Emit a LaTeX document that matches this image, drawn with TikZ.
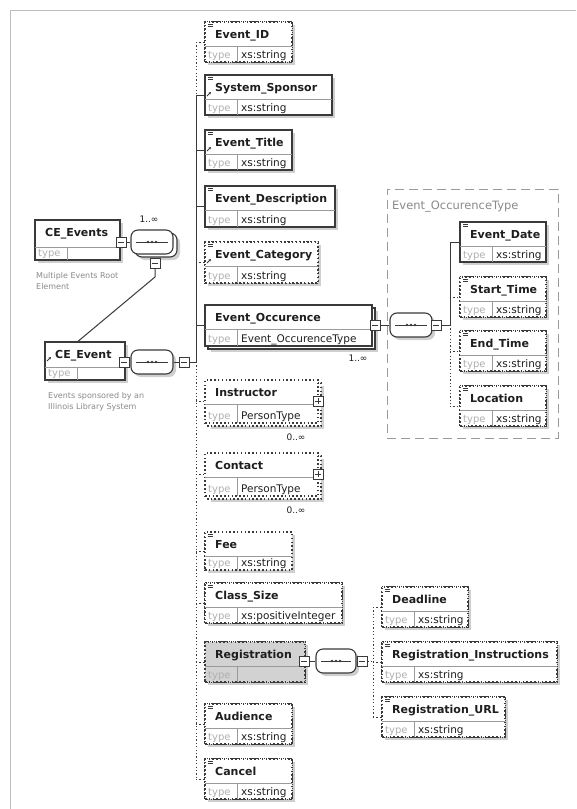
\documentclass[tikz,border=0pt]{standalone}
\usepackage{fontspec}
\setmainfont{DejaVu Sans}
\usetikzlibrary{fit,calc,arrows.meta}
\definecolor{boxc}{HTML}{3A3A3A}
\definecolor{divc}{HTML}{9A9A9A}
\definecolor{shadc}{HTML}{CFCFCF}
\definecolor{textc}{HTML}{1E1E1E}
\definecolor{lblc}{HTML}{8A8A8A}
\definecolor{typelc}{HTML}{B0B0B0}
\definecolor{framec}{HTML}{BDBDBD}
\definecolor{regc}{HTML}{D2D2D2}
\tikzset{
 elline/.style={draw=boxc, line width=1.3pt},
 req/.style={solid},
 opt/.style={dash pattern=on 1.5pt off 2.3pt},
 elbox/.style={elline, fill=white, inner sep=0pt},
 divline/.style={draw=divc, line width=0.6pt},
 namef/.style={anchor=base west, inner sep=0pt, text=textc, font=\fontsize{11}{13}\selectfont\bfseries},
 typef/.style={anchor=base west, inner sep=0pt, text=textc, font=\fontsize{10.5}{12}\selectfont},
 typelf/.style={anchor=base west, inner sep=0pt, text=typelc, font=\fontsize{10}{12}\selectfont},
 conn/.style={draw=boxc, line width=1pt},
 optconn/.style={conn, dash pattern=on 1.2pt off 2.2pt},
 seqbox/.style={draw=boxc, line width=1.1pt, fill=white, rounded corners=7pt, minimum width=42pt, minimum height=24pt, inner sep=0pt},
 pmbox/.style={draw=boxc, line width=0.9pt, fill=white, minimum size=10pt, inner sep=0pt},
 note/.style={anchor=base west, inner sep=0pt, text=lblc, font=\fontsize{8}{9}\selectfont},
 card/.style={inner sep=0pt, text=textc, font=\fontsize{9}{10}\selectfont},
 grpbox/.style={draw=divc, line width=0.9pt, dash pattern=on 9pt off 5pt, inner sep=0pt},
}
\newcommand{\xel}[8]{%
 \fill[shadc] (#3+\stk+3,#4+\stk+3) rectangle (#5+\stk+3,#6+\stk+3);
 \path[elline, fill=white, #2] (#3+\stk,#4+\stk) rectangle (#5+\stk,#6+\stk);
 \node[elbox, #2, fit={(#3,#4) (#5,#6)}] (#1) {};
 \draw[divline] (#3,#4+\rowh) -- (#5,#4+\rowh);
 \draw[divline] (#3+32,#4+\rowh) -- (#3+32,#6);
 \node[namef] (#1-n) at (#3+10,#4+16) {#7};
 \node[typelf] (#1-l) at (#3+3,#6-4) {type};
 \node[typef] (#1-t) at (#3+36,#6-4) {#8};
}
\newcommand{\eqi}[2]{\draw[boxc, line width=0.6pt] (#1+3,#2+2.5) -- (#1+8,#2+2.5) (#1+3,#2+4.5) -- (#1+8,#2+4.5);}
\newcommand{\refi}[2]{\draw[boxc, line width=0.8pt, -{Stealth[length=2.5pt,width=2.5pt]}] (#1+2,#2+21) -- (#1+6,#2+17);}
\newcommand{\minusbx}[3]{\node[pmbox] (#1) at (#2,#3) {};
 \draw[boxc, line width=0.9pt] ($(#1.center)+(-3,0)$) -- ($(#1.center)+(3,0)$);}
\newcommand{\plusbx}[3]{\node[pmbox] (#1) at (#2,#3) {};
 \draw[boxc, line width=0.9pt] ($(#1.center)+(-3,0)$) -- ($(#1.center)+(3,0)$) ($(#1.center)+(0,-3)$) -- ($(#1.center)+(0,3)$);}
\newcommand{\seqc}[4]{%
 \node[seqbox, fill=shadc, draw=none, minimum width=#4pt] (#1-sh) at (#2+3,#3+3) {};
 \node[seqbox, minimum width=#4pt] (#1) at (#2,#3) {};
 \draw[boxc, line width=0.9pt] ($(#1.west)+(6,0)$) -- ($(#1.east)+(-6,0)$);
 \foreach \dx in {-4,0,4} \fill[boxc] ($(#1.center)+(\dx,0)$) circle (1.4pt);
}
\begin{document}
\begin{tikzpicture}[x=1pt,y=-1pt]
\useasboundingbox (0,0) rectangle (576,809);
\fill[white] (0,0) rectangle (576,809);
\draw[framec, line width=0.8pt] (10,809) -- (10,10) -- (576,10);

% root elements
\def\stk{0}\def\rowh{27}
\xel{ces}{req}{35}{220}{120}{260}{CE\_Events}{}
\def\rowh{25}
\xel{ce}{req}{45}{342}{125}{380}{CE\_Event}{}
\refi{45}{340}
\node[note] (n1a) at (36,278) {Multiple Events Root};
\node[note] (n1b) at (36,289) {Element};
\node[note] (n2a) at (48,398) {Events sponsored by an};
\node[note] (n2b) at (48,409) {Illinois Library System};

% CE_Events sequence (1..inf)
\node[seqbox, fill=shadc, draw=none] (s1-stksh) at (159,248) {};
\node[seqbox] (s1-stk) at (156,245) {};
\node[seqbox] (s1) at (152,242) {};
\draw[boxc, line width=0.9pt] ($(s1.west)+(6,0)$) -- ($(s1.east)+(-6,0)$);
\foreach \dx in {-4,0,4} \fill[boxc] ($(s1.center)+(\dx,0)$) circle (1.4pt);
\node[card] (s1-c) at (149,219) {1..∞};
\minusbx{cesm}{121}{242}
\draw[conn] (cesm) -- (s1);
\minusbx{s1b}{155}{263}
\draw[conn] (s1b.north) -- (s1b.north |- s1-stk.south);
\coordinate (bend) at (155,277);
\coordinate (cetopx) at (78,0);
\draw[conn] (s1b.south) -- (bend) -- (ce.north -| cetopx);

% CE_Event sequence
\minusbx{cem}{124}{362}
\seqc{s2}{152}{362}{42}
\minusbx{s2m}{184}{362}
\coordinate (j0) at (196,362);
\coordinate (sp) at (196,0);
\draw[conn] (cem) -- (s2);
\draw[conn] (s2) -- (s2m);
\draw[conn] (s2m) -- (j0);

% children of CE_Event
\def\rowh{24}
\xel{e1}{opt}{205}{22}{292}{62}{Event\_ID}{xs:string}\eqi{205}{22}
\xel{e2}{req}{205}{75}{332}{115}{System\_Sponsor}{xs:string}\eqi{205}{75}\refi{205}{75}
\xel{e3}{req}{205}{130}{292}{170}{Event\_Title}{xs:string}\eqi{205}{130}\refi{205}{130}
\xel{e4}{req}{205}{186}{335}{227}{Event\_Description}{xs:string}\eqi{205}{186}
\xel{e5}{opt}{205}{242}{318}{283}{Event\_Category}{xs:string}\eqi{205}{242}\refi{205}{242}
\def\stk{3}
\xel{e6}{req}{205}{305}{372}{346}{Event\_Occurence}{Event\_OccurenceType}
\xel{e7}{opt}{205}{380}{318}{423}{Instructor}{PersonType}
\xel{e8}{opt}{205}{453}{318}{496}{Contact}{PersonType}
\def\stk{0}
\xel{e9}{opt}{205}{532}{292}{570}{Fee}{xs:string}\eqi{205}{532}
\xel{e10}{opt}{205}{583}{342}{623}{Class\_Size}{xs:positiveInteger}\eqi{205}{583}
\xel{e11}{opt,fill=regc}{205}{642}{305}{682}{Registration}{}
\xel{e12}{opt}{205}{704}{292}{744}{Audience}{xs:string}\eqi{205}{704}
\xel{e13}{opt}{205}{759}{292}{799}{Cancel}{xs:string}\eqi{205}{759}

\node[card] (e6-c) at (358,358) {1..∞};
\node[card] (e7-c) at (296,437) {0..∞};
\node[card] (e8-c) at (296,510) {0..∞};
\plusbx{e7p}{318}{401}
\plusbx{e8p}{318}{474}

% main spine
\draw[optconn] (e1.west -| sp) -- (e2.west -| sp);
\draw[conn] (e2.west -| sp) -- (j0);
\draw[optconn] (j0) -- (e13.west -| sp);
\foreach \e in {e1,e5,e7,e8,e9,e10,e11,e12,e13} \draw[optconn] (\e.west -| sp) -- (\e.west);
\foreach \e in {e2,e3,e4,e6} \draw[conn] (\e.west -| sp) -- (\e.west);

% Event_OccurenceType
\node[grpbox, fit={(387,189) (558,438)}] (eot) {};
\node[anchor=base west, inner sep=0pt, text=lblc, font=\fontsize{11.5}{13}\selectfont] (eot-t) at (392,209) {Event\_OccurenceType};
\xel{o1}{req}{460}{222}{546}{262}{Event\_Date}{xs:string}\eqi{460}{222}
\xel{o2}{opt}{460}{277}{546}{317}{Start\_Time}{xs:string}\eqi{460}{277}
\xel{o3}{opt}{460}{331}{546}{371}{End\_Time}{xs:string}\eqi{460}{331}
\xel{o4}{opt}{460}{386}{546}{426}{Location}{xs:string}\eqi{460}{386}
\minusbx{e6m}{375}{325}
\seqc{s3}{411}{325}{42}
\minusbx{s3m}{436}{325}
\coordinate (sp3) at (450,0);
\coordinate (j3) at (450,325);
\draw[conn] (e6m) -- (s3);
\draw[conn] (s3m) -- (j3);
\draw[conn] (o1.west -| sp3) -- (j3);
\draw[optconn] (j3) -- (o4.west -| sp3);
\draw[conn] (o1.west -| sp3) -- (o1.west);
\foreach \e in {o2,o3,o4} \draw[optconn] (\e.west -| sp3) -- (\e.west);

% Registration
\xel{r1}{opt}{382}{587}{468}{627}{Deadline}{xs:string}\eqi{382}{587}
\xel{r2}{opt}{382}{642}{557}{682}{Registration\_Instructions}{xs:string}\eqi{382}{642}
\xel{r3}{opt}{382}{697}{505}{737}{Registration\_URL}{xs:string}\eqi{382}{697}
\minusbx{e11m}{304}{661}
\seqc{s4}{336}{661}{40}
\minusbx{s4m}{362}{661}
\coordinate (sp4) at (373,0);
\draw[conn] (e11m) -- (s4);
\draw[conn] (s4) -- (s4m);
\draw[optconn] (s4m) -- (s4m -| sp4);
\draw[optconn] (r1.west -| sp4) -- (r3.west -| sp4);
\foreach \e in {r1,r2,r3} \draw[optconn] (\e.west -| sp4) -- (\e.west);
\end{tikzpicture}
\end{document}
